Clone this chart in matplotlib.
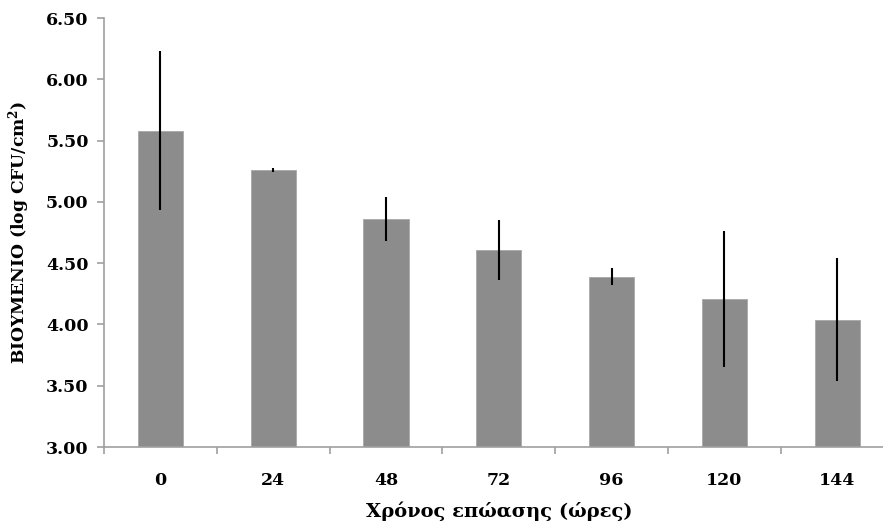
import matplotlib
matplotlib.use("Agg")
import matplotlib.pyplot as plt
import numpy as np

# biofilm counts per incubation time
hours = ["0", "24", "48", "72", "96", "120", "144"]
log_cfu = [5.58, 5.26, 4.86, 4.61, 4.39, 4.21, 4.04]
err = [0.65, 0.02, 0.18, 0.245, 0.07, 0.555, 0.505]

plt.rcParams['font.family'] = ['DejaVu Serif']
plt.rcParams['mathtext.fontset'] = 'dejavuserif'

fig = plt.figure(figsize=(8.83, 5.24), dpi=100)
# the right edge of the plot runs past the picture, like the original crop
ax = fig.add_axes([0.1178, 0.1469, 0.8942, 0.8187])

x = np.arange(len(hours))
ax.bar(x, [v - 3 for v in log_cfu], bottom=3, width=0.4, color="#8c8c8c",
       edgecolor="#a8a8a8", linewidth=0.6, zorder=2)
ax.errorbar(x, log_cfu, yerr=err, fmt="none", ecolor="black", elinewidth=1.5,
            capsize=0, zorder=3)

ax.set_xlim(-0.5, len(hours) - 0.5)
ax.set_ylim(3.0, 6.5)
yt = np.arange(3.0, 6.51, 0.5)
ax.set_yticks(yt)
ax.set_yticklabels(["%.2f" % t for t in yt], fontsize=12.5, fontweight="bold")
ax.set_xticks(x)
ax.set_xticklabels(hours, fontsize=12.5, fontweight="bold")
ax.set_xticks(np.arange(-0.5, len(hours) + 0.5, 1), minor=True)
ax.tick_params(axis="x", which="major", length=0, pad=18)
ax.tick_params(axis="x", which="minor", length=5, color="#a0a0a0", width=1.2)
ax.tick_params(axis="y", length=5, color="#a0a0a0", width=1.2, pad=6)

for s in ["top", "right"]:
    ax.spines[s].set_visible(False)
for s in ["left", "bottom"]:
    ax.spines[s].set_color("#a0a0a0")
    ax.spines[s].set_linewidth(1.2)

ax.set_xlabel("Χρόνος επώασης (ώρες)", fontsize=14, fontweight="bold", labelpad=9)
ax.set_ylabel("ΒΙΟΥΜΕΝΙΟ (log CFU/cm$^\\mathbf{2}$)", fontsize=12.3,
              fontweight="bold", labelpad=10)

fig.savefig("out.png", dpi=100)
